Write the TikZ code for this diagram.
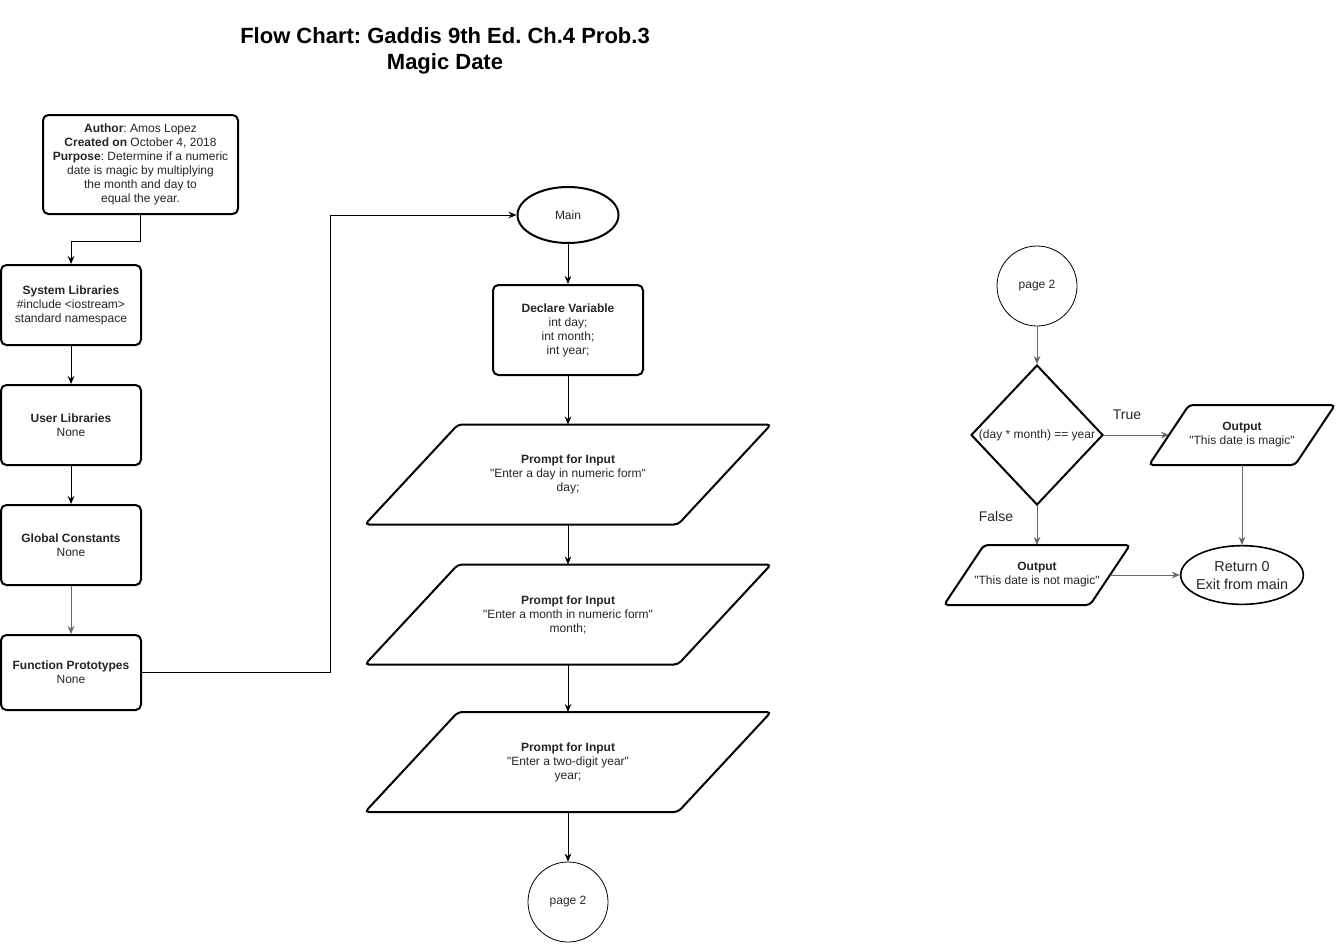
\documentclass[tikz,border=0pt]{standalone}
\usepackage{fontspec}
\setmainfont{Liberation Sans}
\usetikzlibrary{shapes.geometric,arrows.meta,calc}
\newcommand{\dq}{\textquotedbl}
\begin{document}
\frenchspacing
\begin{tikzpicture}[x=0.75pt,y=-0.75pt,
  txt/.style={font=\fontsize{9}{10.5}\selectfont,align=center,text=black!85},
  box/.style={txt,draw,line width=1.5pt,rounded corners=4pt,inner sep=2pt},
  para/.style={draw,line width=1.5pt,rounded corners=3pt},
  conn/.style={circle,draw,line width=0.6pt,minimum size=60pt,inner sep=0pt,txt},
  arr/.style={line width=0.75pt,-{Stealth[length=6pt,width=5pt]}},
  garr/.style={arr,draw=black!60},
  lbl/.style={font=\fontsize{10.5}{12.5}\selectfont,text=black!85}]
\fill[white] (0,0) rectangle (1338,943);
\useasboundingbox (0,0) rectangle (1338,943);

% title
\node[font=\bfseries\fontsize{16.5}{19.5}\selectfont,align=center] (title) at (445,51)
  {Flow Chart: Gaddis 9th Ed. Ch.4 Prob.3\\Magic Date};

% left column
\node[box,minimum width=146.25pt,minimum height=74.25pt] (author) at (140.5,164.5)
  {\textbf{Author}: Amos Lopez\\\textbf{Created on} October 4, 2018\\\textbf{Purpose}: Determine if a numeric\\date is magic by multiplying\\the month and day to\\equal the year.};
\node[box,minimum width=105pt,minimum height=60pt] (syslib) at (71,305)
  {\textbf{System Libraries}\\\#include <iostream>\\standard namespace};
\node[box,minimum width=105pt,minimum height=60pt] (userlib) at (71,425)
  {\textbf{User Libraries}\\None};
\node[box,minimum width=105pt,minimum height=60pt] (globconst) at (71,545)
  {\textbf{Global Constants}\\None};
\node[box,minimum width=105pt,minimum height=56.25pt] (funcproto) at (71,672.5)
  {\textbf{Function Prototypes}\\None};

% middle column
\node[ellipse,draw,line width=1.5pt,minimum width=75.75pt,minimum height=42pt,inner sep=0pt,txt] (main) at (568,215) {Main};
\node[box,minimum width=112.5pt,minimum height=67.5pt] (declare) at (568,330)
  {\textbf{Declare Variable}\\int day;\\int month;\\int year;};

\node[txt] (p1) at (568,474.5) {\textbf{Prompt for Input}\\\dq Enter a day in numeric form\dq\\day;};
\node[txt] (p2) at (568,614.5) {\textbf{Prompt for Input}\\\dq Enter a month in numeric form\dq\\month;};
\node[txt] (p3) at (568,762) {\textbf{Prompt for Input}\\\dq Enter a two-digit year\dq\\year;};
\foreach \p in {p1,p2,p3}{
  \draw[para] ($(\p)+(-110,-50)$) -- ($(\p)+(203,-50)$) -- ($(\p)+(110,50)$) -- ($(\p)+(-203,50)$) -- cycle;
  \coordinate (\p n) at ($(\p)+(0,-50)$);
  \coordinate (\p s) at ($(\p)+(0,50)$);
}
\node[conn] (pg2a) at (568,902) {page 2};

% right part
\node[conn] (pg2b) at (1037,286) {page 2};
\node[diamond,draw,line width=1.5pt,minimum width=99pt,minimum height=105pt,inner sep=0pt] (dec) at (1037,435) {};
\node[txt] (dectxt) at (dec) {(day * month) == year};

\node[txt] (outT) at (1242,435) {\textbf{Output}\\\dq This date is magic\dq};
\node[txt] (outF) at (1037,575) {\textbf{Output}\\\dq This date is not magic\dq};
\foreach \p in {outT,outF}{
  \draw[para] ($(\p)+(-53,-30)$) -- ($(\p)+(93,-30)$) -- ($(\p)+(53,30)$) -- ($(\p)+(-93,30)$) -- cycle;
  \coordinate (\p n) at ($(\p)+(0,-30)$);
  \coordinate (\p s) at ($(\p)+(0,30)$);
  \coordinate (\p w) at ($(\p)+(-73,0)$);
  \coordinate (\p e) at ($(\p)+(73,0)$);
}
\node[ellipse,draw,line width=1.2pt,minimum width=92pt,minimum height=44pt,inner sep=0pt] (ret) at (1242,575) {};
\node[align=center,font=\fontsize{10.8}{13.5}\selectfont,text=black!85] (rettxt) at ($(ret)+(0,1)$) {Return 0\\Exit from main};

\node[lbl] (tlbl) at (1127,415) {True};
\node[lbl] (flbl) at (996,516) {False};

% connectors
\draw[arr] (author.south) -- ++(0,26) -| (syslib.north);
\draw[arr] (syslib) -- (userlib);
\draw[arr] (userlib) -- (globconst);
\draw[garr] (globconst) -- (funcproto);
\draw[arr] (funcproto.east) -- ++(188,0) |- (main.west);
\draw[arr] (main) -- (declare);
\draw[arr] (declare.south) -- (p1n);
\draw[arr] (p1s) -- (p2n);
\draw[arr] (p2s) -- (p3n);
\draw[arr] (p3s) -- (pg2a.north);

\draw[garr] (pg2b) -- (dec.north);
\draw[garr] (dec.east) -- (outTw);
\draw[garr] (dec.south) -- (outFn);
\draw[garr] (outTs) -- (ret.north);
\draw[garr] (outFe) -- (ret.west);
\end{tikzpicture}
\end{document}
